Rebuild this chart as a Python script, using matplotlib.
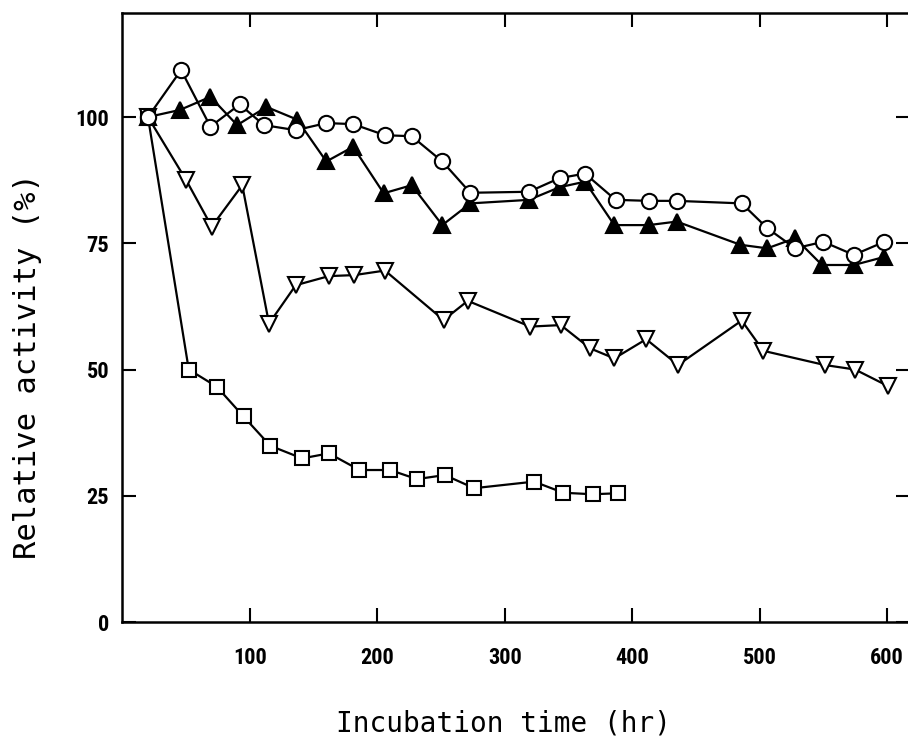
"""Relative activity vs incubation time, four preparations."""

import matplotlib

matplotlib.use("Agg")
import matplotlib.pyplot as plt

# open circles
circle_hr = [20, 46, 69, 92, 111, 136, 160, 181, 206, 227, 251, 273,
             319, 343, 363, 387, 413, 435, 486, 506, 528, 550, 574, 598]
circle_act = [100, 109.3, 98.1, 102.5, 98.4, 97.4, 98.8, 98.6, 96.4, 96.2, 91.2, 85.0,
              85.2, 87.9, 88.8, 83.6, 83.4, 83.4, 82.9, 78.0, 74.0, 75.3, 72.7, 75.3]

# filled triangles
tri_hr = [20, 45, 69, 90, 113, 137, 160, 181, 205, 227, 251, 273,
          319, 343, 363, 386, 413, 435, 485, 506, 528, 549, 574, 598]
tri_act = [100, 101.4, 104.0, 98.4, 102.0, 99.5, 91.2, 94.1, 84.9, 86.5, 78.6, 82.9,
           83.6, 86.1, 87.2, 78.6, 78.6, 79.3, 74.7, 74.0, 76.0, 70.7, 70.7, 72.3]

# open inverted triangles
inv_hr = [20, 50, 70, 94, 115, 136, 162, 182, 206, 252, 271,
          320, 344, 367, 386, 411, 436, 486, 503, 551, 575, 601]
inv_act = [100, 87.5, 78.3, 86.5, 59.1, 66.7, 68.5, 68.7, 69.6, 59.8, 63.6,
           58.5, 58.8, 54.2, 52.2, 56.0, 50.9, 59.7, 53.7, 50.9, 50.0, 46.7]

# open squares
sq_hr = [20, 52, 74, 95, 116, 141, 162, 186, 210, 231, 253, 276,
         323, 346, 369, 389]
sq_act = [100, 50.0, 46.6, 40.7, 34.9, 32.4, 33.4, 30.1, 30.1, 28.3, 29.1, 26.5,
          27.8, 25.6, 25.3, 25.5]

x_ticks = [100, 200, 300, 400, 500, 600]
y_ticks = [0, 25, 50, 75, 100]

TICK_FONT = ["Roboto Condensed", "DejaVu Sans"]
LABEL_FONT = ["DejaVu Sans Mono"]

fig = plt.figure(figsize=(9.08, 7.39), dpi=100)
ax = fig.add_axes([0.1349, 0.1583, 0.8672, 0.8241])

line_kw = dict(color="black", linewidth=1.6, markeredgecolor="black",
               markeredgewidth=1.5)
ax.plot(sq_hr, sq_act, marker="s", markersize=9.5, markerfacecolor="white",
        zorder=3, **line_kw)
ax.plot(inv_hr, inv_act, marker="v", markersize=11, markerfacecolor="white",
        zorder=3, **line_kw)
ax.plot(tri_hr, tri_act, marker="^", markersize=11, markerfacecolor="black",
        zorder=4, **line_kw)
ax.plot(circle_hr, circle_act, marker="o", markersize=11, markerfacecolor="white",
        zorder=5, **line_kw)

ax.set_xlim(0, 618)
ax.set_ylim(0, 120.6)
ax.set_xticks(x_ticks)
ax.set_yticks(y_ticks)
ax.set_xticklabels([str(v) for v in x_ticks], family=TICK_FONT,
                   fontsize=16, fontweight="bold")
ax.set_yticklabels([str(v) for v in y_ticks], family=TICK_FONT,
                   fontsize=16, fontweight="bold")
ax.tick_params(direction="in", length=10, width=1.5, top=True, right=True,
               pad=9.5)
ax.tick_params(axis="x", pad=18)
for spine in ax.spines.values():
    spine.set_linewidth(1.8)

ax.set_xlabel("Incubation time (hr)", family=LABEL_FONT, fontsize=20)
ax.set_ylabel("Relative activity (%)", family=LABEL_FONT, fontsize=22)
ax.xaxis.set_label_coords(0.484, -0.143)
ax.yaxis.set_label_coords(-0.121, 0.421)
ax.yaxis.label.set_verticalalignment("center")

fig.savefig("out.png", dpi=100)
